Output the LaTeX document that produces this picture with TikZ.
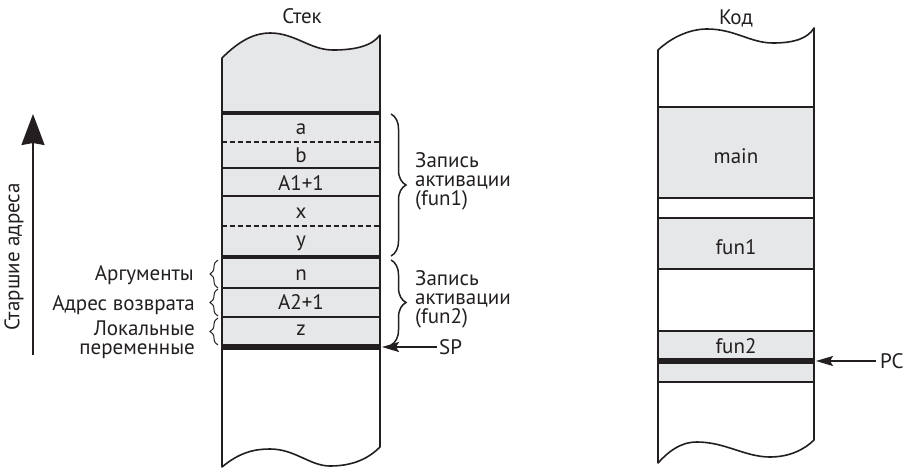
\documentclass[tikz,border=0pt]{standalone}
\usepackage{fontspec}
\setmainfont{PT Sans}
\usetikzlibrary{decorations.pathreplacing,arrows.meta}
\definecolor{ink}{HTML}{231F20}
\definecolor{cellgray}{HTML}{E6E7E8}
\begin{document}
\begin{tikzpicture}[x=1pt,y=-1pt,
  lbl/.style={inner sep=0pt,text=ink,font=\fontsize{25}{24}\selectfont,scale=0.84},
  cell/.style={lbl,anchor=base},
  lblr/.style={lbl,anchor=base east},
  lbll/.style={lbl,anchor=base west},
  outline/.style={draw=ink,line width=1.6pt,line join=round},
  sep/.style={draw=ink,line width=1.6pt},
  thick sep/.style={draw=ink,line width=4.8pt},
  dash sep/.style={draw=ink,line width=1.6pt,dash pattern=on 5pt off 3pt},
  bigbrace/.style={draw=ink,line width=1.5pt,decorate,decoration={brace,amplitude=15pt}},
  smallbrace/.style={draw=ink,line width=1pt,decorate,decoration={brace,amplitude=8pt}},
  ptr/.style={draw=ink,line width=1.6pt,-{Stealth[length=17pt,width=10pt,inset=3pt]}}]
\useasboundingbox (0,0) rectangle (907,468);

% ---------- Stack column ----------
\fill[cellgray] (222,58) .. controls (240,40) and (255,33) .. (270,33)
  .. controls (295,33) and (310,50) .. (333,50)
  .. controls (355,50) and (372,46) .. (380,35) -- (380,347) -- (222,347) -- cycle;
\draw[outline] (222,58) .. controls (240,40) and (255,33) .. (270,33)
  .. controls (295,33) and (310,50) .. (333,50)
  .. controls (355,50) and (372,46) .. (380,35) -- (380,447)
  .. controls (370,457) and (355,466) .. (330,466)
  .. controls (310,466) and (295,449) .. (270,449)
  .. controls (255,449) and (240,452) .. (222,467) -- cycle;
\draw[thick sep] (222,113) -- (380,113);
\draw[dash sep] (222,142) -- (380,142);
\draw[sep] (222,168) -- (380,168);
\draw[sep] (222,196) -- (380,196);
\draw[dash sep] (222,226) -- (380,226);
\draw[thick sep] (222,257) -- (380,257);
\draw[sep] (222,288) -- (380,288);
\draw[sep] (222,317) -- (380,317);
\draw[draw=ink,line width=5.5pt] (222,347) -- (380,347);

\node[cell] (stek) at (302,24) {Стек};
\node[cell] (ca) at (301,135) {a};
\node[cell] (cb) at (301,162) {b};
\node[cell] (ca1) at (301,190) {A1+1};
\node[cell] (cx) at (301,218) {x};
\node[cell] (cy) at (301,246) {y};
\node[cell] (cn) at (301,280) {n};
\node[cell] (ca2) at (301,309) {A2+1};
\node[cell] (cz) at (301,335) {z};

% braces right
\draw[bigbrace] (391,114) -- (391,256);
\draw[bigbrace] (391,260) -- (391,345);
\node[lbll] (rec1a) at (415,167) {Запись};
\node[lbll] (rec1b) at (415,186) {активации};
\node[lbll] (rec1c) at (415,205) {(fun1)};
\node[lbll] (rec2a) at (415,285) {Запись};
\node[lbll] (rec2b) at (415,304) {активации};
\node[lbll] (rec2c) at (415,323) {(fun2)};

% SP pointer
\node[lbll] (sp) at (439,354) {SP};
\coordinate (spend) at (382,347);
\coordinate (spstart) at (437,347);
\draw[ptr] (spstart) -- (spend);

% left braces and labels
\draw[smallbrace] (218,288) -- (218,260);
\draw[smallbrace] (218,316) -- (218,289);
\draw[smallbrace] (218,345) -- (218,318);
\node[lblr] (args) at (194,280) {Аргументы};
\node[lblr] (ret) at (195,310) {Адрес возврата};
\node[lblr] (loc1) at (195,335) {Локальные};
\node[lblr] (loc2) at (195,354) {переменные};

% direction arrow
\coordinate (dirA) at (33,355);
\coordinate (dirB) at (33,114);
\draw[draw=ink,line width=2pt,-{Stealth[length=31pt,width=23pt,inset=2pt]}] (dirA) -- (dirB);
\node[lbl,rotate=90] (older) at (14,257) {Старшие адреса};

% ---------- Code column ----------
\fill[cellgray] (658,107) rectangle (814,198);
\fill[cellgray] (658,218) rectangle (814,269);
\fill[cellgray] (658,331) rectangle (814,382);
\draw[sep] (658,107) -- (814,107);
\draw[sep] (658,198) -- (814,198);
\draw[sep] (658,218) -- (814,218);
\draw[sep] (658,269) -- (814,269);
\draw[sep] (658,331) -- (814,331);
\draw[sep] (658,382) -- (814,382);
\draw[draw=ink,line width=6.5pt] (658,361) -- (814,361);
\draw[outline] (658,50) .. controls (672,37) and (690,29) .. (707,29)
  .. controls (735,29) and (750,43) .. (773,43)
  .. controls (795,43) and (808,38) .. (814,28) -- (814,440)
  .. controls (805,449) and (790,457) .. (770,457)
  .. controls (745,457) and (725,442) .. (697,442)
  .. controls (680,442) and (668,452) .. (658,463) -- cycle;

\node[cell] (kod) at (736,25) {Код};
\node[cell] (main) at (736,163) {main};
\node[cell] (f1) at (736,254) {fun1};
\node[cell] (f2) at (736,353) {fun2};

\node[lbll] (pc) at (880,368) {PC};
\coordinate (pcend) at (816,361);
\coordinate (pcstart) at (876,361);
\draw[ptr] (pcstart) -- (pcend);
\end{tikzpicture}
\end{document}
